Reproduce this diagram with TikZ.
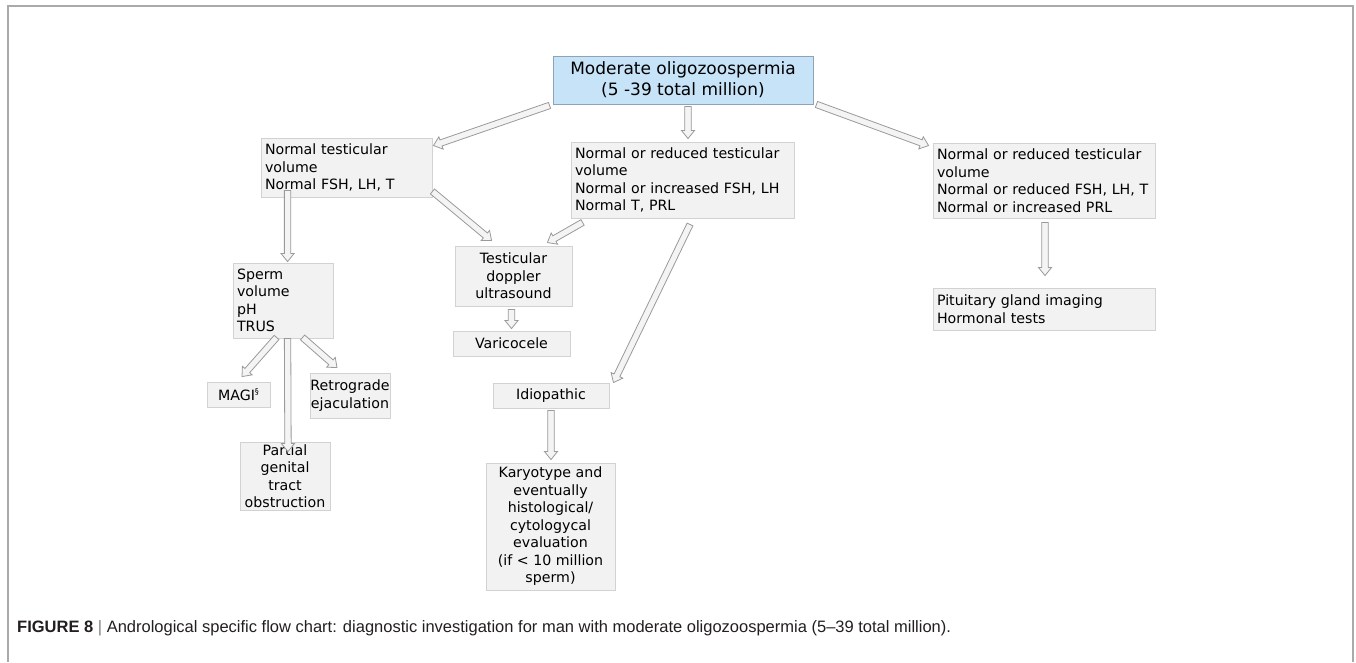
\documentclass[tikz,border=0pt]{standalone}
\usepackage{fontspec}
\setmainfont{DejaVu Sans}
\newfontfamily\capfont{Liberation Sans}
\usetikzlibrary{calc}

\definecolor{boxfill}{HTML}{F2F2F2}
\definecolor{boxline}{HTML}{D2D2D2}
\definecolor{topfill}{HTML}{C7E3F8}
\definecolor{topline}{HTML}{8FA3B8}
\definecolor{arrline}{HTML}{9A9A9A}
\definecolor{arrfill}{HTML}{F4F4F4}
\definecolor{framecol}{HTML}{AAAAAA}
\definecolor{captext}{HTML}{231F20}

% hollow block arrow from #1 to #2
\newcommand{\blockarrow}[2]{%
  \path (#1) coordinate (ba-a) (#2) coordinate (ba-b)
        ($(ba-b)!8pt!(ba-a)$) coordinate (ba-c);
  \draw[blk] ($(ba-a)!3.2pt!90:(ba-b)$) -- ($(ba-c)!3.2pt!90:(ba-b)$)
    -- ($(ba-c)!6.5pt!90:(ba-b)$) -- (ba-b)
    -- ($(ba-c)!6.5pt!-90:(ba-b)$) -- ($(ba-c)!3.2pt!-90:(ba-b)$)
    -- ($(ba-a)!3.2pt!-90:(ba-b)$) -- cycle;}

\tikzset{
  box/.style={draw=boxline, fill=boxfill, line width=0.9pt, inner xsep=4pt,
    inner ysep=2pt, font=\fontsize{14.2}{17.5}\selectfont, text=black},
  lbox/.style={box, align=left},
  cbox/.style={box, align=center},
  blk/.style={draw=arrline, fill=arrfill, line width=0.8pt, line join=miter},
}

\begin{document}
\begin{tikzpicture}[x=1pt, y=-1pt]
\useasboundingbox (0,0) rectangle (1356,662);
% outer frame, open at the bottom
\draw[framecol, line width=1.3pt] (8,662) -- (8,6) -- (1353,6) -- (1353,662);

% boxes
\node[draw=topline, fill=topfill, line width=0.9pt, align=center,
  minimum width=260pt, minimum height=48pt, inner sep=0pt,
  font=\fontsize{17}{21}\selectfont] (top) at (683,80)
  {Moderate oligozoospermia\\(5 -39 total million)};

\node[lbox, minimum height=59pt, text width=163pt] (nv) at (346.5,167.5)
  {Normal testicular\\volume\\Normal FSH, LH, T};
\node[lbox, minimum height=76pt, text width=215pt] (nr) at (682.5,180)
  {Normal or reduced testicular\\volume\\Normal or increased FSH, LH\\Normal T, PRL};
\node[lbox, minimum height=75pt, text width=214pt] (nh) at (1044,180.5)
  {Normal or reduced testicular\\volume\\Normal or reduced FSH, LH, T\\Normal or increased PRL};
\node[lbox, minimum height=42pt, text width=214pt] (pit) at (1044,309)
  {Pituitary gland imaging\\Hormonal tests};

\node[lbox, minimum height=75pt, text width=92pt] (sp) at (283,300.5)
  {Sperm\\volume\\pH\\TRUS};
\node[cbox, minimum height=25pt, minimum width=63pt] (magi) at (238.5,394.5)
  {MAGI\raisebox{0.45em}{\fontsize{8}{8}\selectfont §}};
\node[cbox, minimum height=45pt, minimum width=80pt, inner xsep=0pt] (ret) at (350,395.5)
  {Retrograde\\ejaculation};
\node[cbox, minimum height=68pt, minimum width=90pt] (pgt) at (285,476)
  {Partial\\genital\\tract\\obstruction};

\node[cbox, minimum height=60pt, minimum width=117pt] (tdu) at (513.5,276)
  {Testicular\\doppler\\ultrasound};
\node[cbox, minimum height=25pt, minimum width=117pt] (var) at (511.5,343.5)
  {Varicocele};
\node[cbox, minimum height=25pt, minimum width=116pt] (idi) at (551,395.5)
  {Idiopathic};
\node[cbox, minimum height=127pt, minimum width=129pt] (kar) at (550.5,526.5)
  {Karyotype and\\eventually\\histological/\\cytologycal\\evaluation\\(if < 10 million\\sperm)};

% connectors
\blockarrow{$(top.south west)+(-3,1)$}{$(nv.north east)+(1,8)$}
\blockarrow{$(top.south)+(5,2)$}{$(nr.north)+(5.5,-3)$}
\blockarrow{$(top.south east)+(3,0)$}{$(nh.north west)+(-4,3)$}
\blockarrow{$(nv.south east)+(0,-6)$}{$(tdu.north west)+(37,-5)$}
\blockarrow{$(nr.south west)+(12,4)$}{$(tdu.north east)+(-25,-3)$}
\blockarrow{$(nv.south west)+(27,-7)$}{$(sp.north west)+(55,-1)$}
\blockarrow{$(tdu.south)+(-2,3)$}{$(var.north)+(0,-2)$}
\blockarrow{$(nr.south)+(7.5,6)$}{$(idi.north east)+(4,0)$}
\blockarrow{$(idi.south)+(0,2)$}{$(kar.north)+(0.5,-3)$}
\blockarrow{$(nh.south)+(1,4)$}{$(pit.north)+(1,-12)$}
\blockarrow{$(sp.south west)+(44,-1)$}{$(magi.north)+(3.5,-5)$}
\blockarrow{$(sp.south west)+(55,0)$}{$(pgt.north)+(3,10)$}
\blockarrow{$(sp.south west)+(70,-1)$}{$(ret.north)+(-13,-5)$}

% caption
\node[anchor=base west, inner sep=0pt, text=captext,
  font=\capfont\fontsize{16.5}{18}\selectfont] (cap) at (17,632)
  {\textbf{FIGURE 8} {\color{gray}|} Andrological specific flow chart: diagnostic investigation for man with moderate oligozoospermia (5–39 total million).};
\end{tikzpicture}
\end{document}
